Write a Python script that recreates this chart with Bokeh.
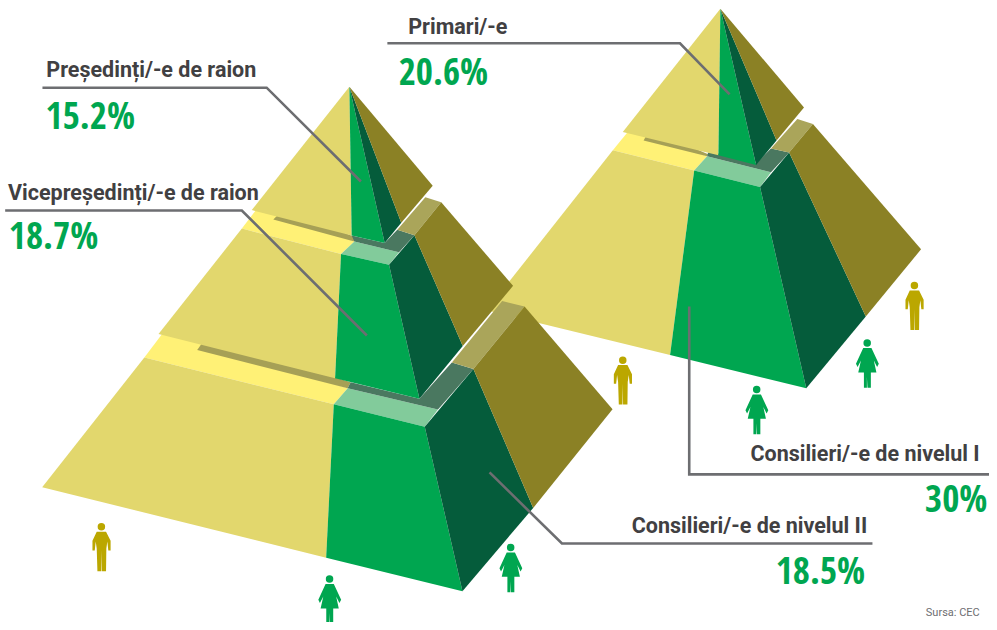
from bokeh.plotting import figure
from bokeh.embed import file_html
from bokeh.resources import INLINE
from bokeh.core.properties import value
from bokeh.models import Range1d
import numpy as np

# ---- data ----
labels = ["Primari/-e", "Președinți/-e de raion", "Vicepreședinți/-e de raion",
          "Consilieri/-e de nivelul I", "Consilieri/-e de nivelul II"]
shares = ["20.6%", "15.2%", "18.7%", "30%", "18.5%"]
source_note = "Sursa: CEC"

label_x = [461, 152, 134, 871.5, 755]
label_y = [26, 70, 194, 459, 532]
share_x = [446.5, 90.5, 53.5, 963.5, 826.5]
share_y = [70.5, 115.5, 237.5, 503.5, 576.5]

LIGHT, YELLOW, GREEN, DARK, OLIVE = "#e2d76d", "#fff176", "#00a650", "#055c3b", "#8b8125"
PALEGREEN, SHADOWGREEN, PALEOLIVE, SHADOW = "#82cb9b", "#4a7860", "#aaa55a", "#a6a056"
INK, RULE, MAN = "#414042", "#6d6e71", "#bba700"

# pyramid faces, in drawing order: (colour, xs, ys)
right_faces = [
    (YELLOW, [617.3, 699.3, 712.3, 635], [151.7, 172.3, 157.7, 130]),
    (SHADOW, [648.3, 712.3, 713.3, 655], [141.7, 157.7, 155.7, 130]),
    (PALEGREEN, [699.3, 765.7, 776.7, 712.3], [172.3, 189, 174, 157.7]),
    (SHADOWGREEN, [712.3, 776.7, 795, 776.7, 761.7, 723.7, 713.3], [157.7, 174, 154, 150, 165, 155, 154]),
    (PALEOLIVE, [776.7, 795, 819, 803.3], [150, 154, 125, 120]),
    (LIGHT, [617.3, 699.3, 675, 490], [151.7, 172.3, 359, 313.7]),
    (GREEN, [699.3, 765.7, 812.3, 675], [172.3, 189, 392.7, 359]),
    (DARK, [765.7, 795, 872.3, 812.3], [189, 154, 320, 392.7]),
    (OLIVE, [795, 819, 928, 872.3], [154, 125, 252, 320]),
    (LIGHT, [725.7, 627.3, 723.7], [8.3, 133.3, 156.7]),
    (GREEN, [725.7, 723.7, 761.7], [8.3, 156.7, 166.7]),
    (DARK, [725.7, 761.7, 782.3], [8.3, 166.7, 141.7]),
    (OLIVE, [725.7, 782.3, 810], [8.3, 141.7, 108.3]),
]
left_faces = [
    (YELLOW, [145, 336, 350, 165], [361.7, 409, 392.7, 335]),
    (SHADOW, [198.3, 350, 353, 208], [354, 392.7, 386.7, 340]),
    (PALEGREEN, [336, 427.7, 441, 350], [409, 431.7, 414.3, 392.7]),
    (SHADOWGREEN, [350, 441, 476.7, 455, 422.3, 353], [392.7, 414.3, 373.3, 366.7, 403.3, 386.7]),
    (PALEOLIVE, [455, 476.7, 528.3, 505.7], [366.7, 373.3, 310, 304.3]),
    (LIGHT, [145, 336, 328.3, 42], [361.7, 409, 564.3, 493]),
    (GREEN, [336, 427.7, 465.7, 328.3], [409, 431.7, 598.3, 564.3]),
    (DARK, [427.7, 476.7, 537, 465.7], [431.7, 373.3, 514, 598.3]),
    (OLIVE, [476.7, 528.3, 617, 537], [373.3, 310, 414, 514]),
    (YELLOW, [243.3, 343.3, 356.7, 263], [231, 256.7, 244, 205]),
    (SHADOW, [275, 356.7, 357, 285], [221.7, 244, 239.3, 212]),
    (PALEGREEN, [343.3, 391.7, 401.7, 356.7], [256.7, 267.7, 255, 244]),
    (SHADOWGREEN, [356.7, 401.7, 417.3, 400, 387.3, 354], [244, 255, 237.7, 232.3, 245.7, 238]),
    (PALEOLIVE, [400, 417.3, 444.3, 428.3], [232.3, 237.7, 204.3, 199.3]),
    (LIGHT, [243.3, 343.3, 337.3, 159.3], [231, 256.7, 382.7, 337.7]),
    (GREEN, [343.3, 391.7, 422.3, 337.3], [256.7, 267.7, 403.3, 382.7]),
    (DARK, [391.7, 417.3, 466, 422.3], [267.7, 237.7, 350, 403.3]),
    (OLIVE, [417.3, 444.3, 516.7, 466], [237.7, 204.3, 289, 350]),
    (LIGHT, [351.7, 253.3, 354], [87.3, 212.3, 238]),
    (GREEN, [351.7, 354, 387.3], [87.3, 238, 245.7]),
    (DARK, [351.7, 387.3, 404], [87.3, 245.7, 225]),
    (OLIVE, [351.7, 404, 435.7], [87.3, 225, 187.7]),
]

leaders = [
    ([390, 685, 735], [43.3, 43.3, 95]),
    ([42.3, 268.3, 363.3], [88.3, 88.3, 183.3]),
    ([4.7, 243.3, 369.3], [212.7, 212.7, 339.3]),
    ([694.3, 694.3, 997], [310, 480, 480]),
    ([493, 566, 879], [478, 550, 550]),
]

man_heads_x = [627.3, 921.3, 101.7]
man_heads_y = [364.3, 288.7, 533]
woman_heads_x = [762.3, 873.7, 331.7, 514.3]
woman_heads_y = [394, 347, 586, 554]

man_dx = [-4.7, 4.7, 9.3, 9.3, 7, 6, 5, 4.7, 0.3, 0, -0.3, -4, -4.7, -5.7, -6.7, -9, -9]
man_dy = [5, 5, 14.3, 24, 24, 15, 22, 45, 45, 24, 45, 45, 22, 15, 24, 24, 14.3]
woman_dx = [-4, 4.3, 11.7, 10, 6.7, 9.3, 3.7, 3.7, 0.3, -0.3, -0.3, -3.3, -3.3, -9, -6.3, -9.7, -11.3]
woman_dy = [5, 5, 21, 24.3, 17.7, 29.7, 29.7, 45.3, 45.3, 34.3, 45.3, 45.3, 29.7, 29.7, 17.7, 24.3, 21]

p = figure(width=989, height=622, output_backend="svg", toolbar_location=None,
           x_axis_type=None, y_axis_type=None, min_border=0,
           x_range=Range1d(0, 997), y_range=Range1d(630, 0),
           outline_line_color=None, background_fill_color="white")
p.grid.visible = False

for faces in (right_faces, left_faces):
    p.patches([f[1] for f in faces], [f[2] for f in faces],
              fill_color=[f[0] for f in faces], line_color=None)

for heads_x, heads_y, dx, dy, col in ((man_heads_x, man_heads_y, man_dx, man_dy, MAN),
                                      (woman_heads_x, woman_heads_y, woman_dx, woman_dy, GREEN)):
    p.patches([list(np.array(dx) + x) for x in heads_x],
              [list(np.array(dy) + y) for y in heads_y],
              fill_color=col, line_color=None)
    p.scatter(heads_x, heads_y, size=7.5, fill_color=col, line_color=None)

p.multi_line([l[0] for l in leaders], [l[1] for l in leaders],
             line_color=RULE, line_width=2.6, line_join="miter")

p.text(label_x, label_y, text=labels, text_font=value("Roboto"), text_font_style="bold",
       text_font_size="21.5px", text_color=INK, text_baseline="alphabetic", text_align="center")
p.text(share_x, share_y, text=shares, text_font=value("Open Sans Condensed"), text_font_style="bold",
       text_font_size="37px", text_color=GREEN, text_baseline="alphabetic", text_align="center")
p.text([960], [620], text=[source_note], text_font=value("Roboto"),
       text_font_size="11px", text_color="#6d6e71", text_baseline="alphabetic", text_align="center")

open("out.html", "w").write(file_html(p, INLINE))
